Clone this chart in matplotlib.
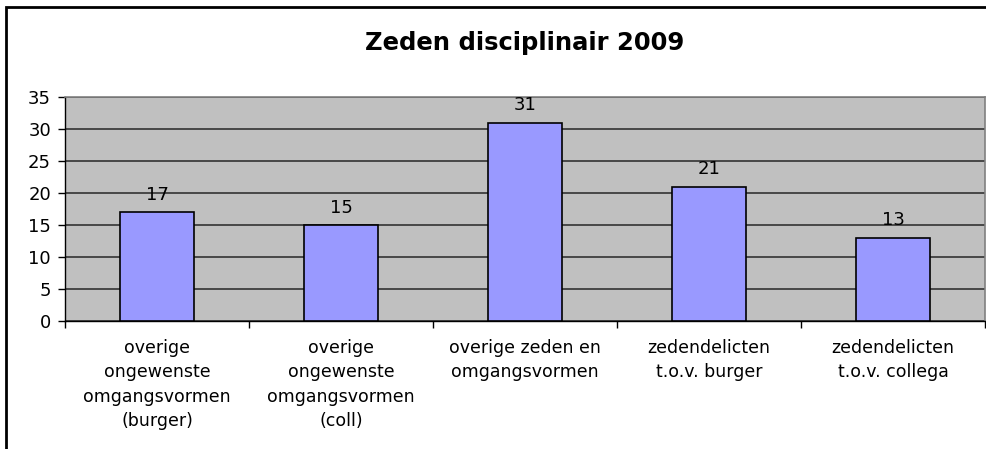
import matplotlib
matplotlib.use("Agg")
import matplotlib.pyplot as plt
from matplotlib.patches import Rectangle
import numpy as np

plt.rcParams['font.family'] = ['DejaVu Sans']

title = "Zeden disciplinair 2009"
categories = [
    "overige\nongewenste\nomgangsvormen\n(burger)",
    "overige\nongewenste\nomgangsvormen\n(coll)",
    "overige zeden en\nomgangsvormen",
    "zedendelicten\nt.o.v. burger",
    "zedendelicten\nt.o.v. collega",
]
values = [17, 15, 31, 21, 13]
yticks = [0, 5, 10, 15, 20, 25, 30, 35]

W, H = 986, 449
fig = plt.figure(figsize=(W / 100, H / 100), dpi=100)
ax = fig.add_axes([65 / W, 1 - 321 / H, 920 / W, 224 / H])
ax.set_facecolor('#C0C0C0')

x = np.arange(len(values))
ax.bar(x, values, width=0.4, color='#9999FF', edgecolor='black', linewidth=1.2, zorder=3)
for xi, v in zip(x, values):
    ax.annotate(str(v), (xi, v), xytext=(0, 6), textcoords='offset points',
                ha='center', va='bottom', fontsize=13)

ax.set_xlim(-0.5, len(values) - 0.5)
ax.set_ylim(0, 35)
ax.set_yticks(yticks)
ax.set_yticklabels([str(t) for t in yticks], fontsize=13)
ax.yaxis.grid(True, color='#333333', linewidth=1.2, zorder=1)
ax.set_axisbelow(True)
ax.tick_params(axis='y', direction='out', length=5, width=1, pad=5)

ax.set_xticks(np.arange(-0.5, len(values), 1.0))
ax.set_xticklabels([])
ax.tick_params(axis='x', direction='out', length=5, width=1)
ax.set_xticks(x, minor=True)
ax.set_xticklabels(categories, minor=True, fontsize=12.5, linespacing=1.45)
ax.tick_params(axis='x', which='minor', length=0, pad=13)

for s in ['top', 'right']:
    ax.spines[s].set_color('#808080')
    ax.spines[s].set_linewidth(1.2)
for s in ['left', 'bottom']:
    ax.spines[s].set_color('black')
    ax.spines[s].set_linewidth(1.0)

fig.text(525 / W, 1 - 43 / H, title, ha='center', va='center', fontsize=17.5, fontweight='bold')

fig.patches.append(Rectangle((6 / W, -0.1), 1.2, 1 - 7 / H + 0.1, transform=fig.transFigure,
                             fill=False, edgecolor='black', linewidth=2, clip_on=False))

fig.savefig('out.png', dpi=100)
